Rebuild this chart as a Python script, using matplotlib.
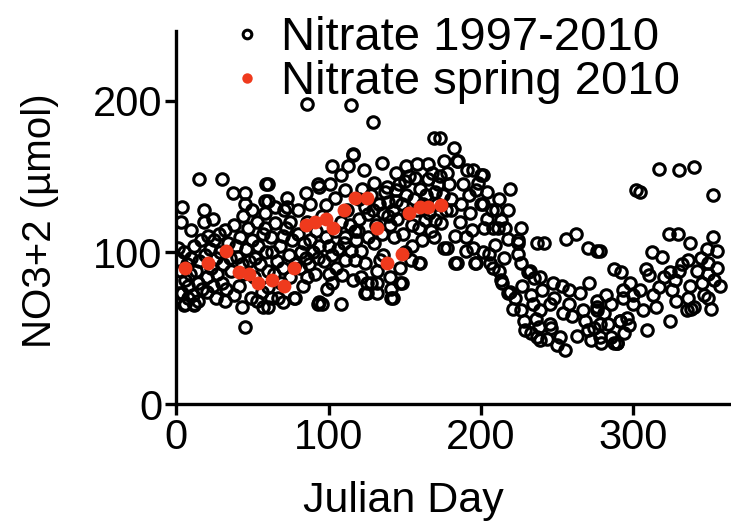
import matplotlib
matplotlib.use('Agg')
import matplotlib.pyplot as plt

plt.rcParams['font.family'] = ['Liberation Sans', 'DejaVu Sans']

# Nitrate 1997-2010 (open circles), grouped by day range
day_a = [1, 3, 4, 4, 5, 12, 15, 18, 18, 21, 30, 37, 45, 45, 43, 45, 49, 57, 58, 58, 58, 59, 60, 60, 60,
         2, 3, 5, 6, 7, 8, 9, 10, 11, 12, 13, 14, 15, 16, 17, 19, 20, 22, 23, 24, 25, 26, 27, 28, 29, 30,
         31, 32, 33, 34, 35, 36, 38, 39, 40, 41, 42, 43, 44, 46, 47, 48, 50, 51, 52, 53, 54, 55, 56, 57,
         59, 60, 8, 14, 20, 26, 32, 38, 53, 10, 24, 44, 50, 2, 6, 12]
val_a = [103, 120, 130, 73, 65, 65, 148, 128, 120, 111, 148, 139, 139, 132, 64, 51, 70, 64, 134, 126, 116, 145, 134, 77, 64,
         95, 88, 100, 82, 92, 78, 86, 96, 72, 104, 88, 80, 94, 108, 76, 98, 84, 102, 90, 78, 108, 96, 86, 112, 100, 80,
         92, 115, 76, 106, 96, 88, 118, 104, 97, 78, 110, 92, 86, 102, 116, 94, 108, 84, 96, 120, 104, 92, 74, 112,
         100, 88, 70, 68, 74, 70, 68, 72, 68, 115, 122, 124, 128, 73, 66, 66]

day_b = [60, 73, 85, 86, 93, 101, 102, 108, 111, 113, 116, 98, 111, 115, 117, 65, 71, 65, 75, 62, 70, 85, 93,
         102, 111, 117, 91, 100, 109, 116, 102, 67, 78, 93, 108, 96, 94, 86, 73, 77, 62, 70, 94, 115,
         63, 66, 68, 70, 72, 74, 76, 78, 80, 82, 84, 86, 88, 90, 92, 94, 96, 98, 100, 104, 106, 108, 110,
         112, 114, 118, 120, 64, 69, 75, 81, 87, 97, 105, 88, 80, 104, 83, 99]
val_b = [145, 136, 139, 198, 145, 145, 157, 151, 141, 157, 164, 131, 110, 101, 114, 130, 128, 119, 120, 110, 111, 96, 96,
         98, 95, 95, 86, 86, 85, 82, 80, 70, 70, 66, 66, 66, 67, 84, 130, 70, 70, 67, 143, 197,
         100, 94, 104, 90, 116, 98, 108, 92, 112, 100, 106, 120, 108, 100, 114, 104, 124, 110, 104, 114, 102, 120, 106,
         128, 118, 108, 122, 86, 80, 84, 90, 92, 94, 90, 132, 128, 136, 78, 76]

day_c = [116, 119, 121, 121, 123, 124, 124, 124, 125, 126, 128, 129, 129, 130, 130, 132, 132, 132, 135, 138,
         139, 139, 140, 141, 141, 142, 144, 144, 144, 147, 147, 148, 150, 151, 154, 157, 158, 159, 159, 160,
         161, 163, 165, 165, 167, 169, 169, 170, 172, 173, 174, 176, 176, 178, 178, 125,
         120, 122, 126, 128, 131, 133, 135, 136, 137, 140, 142, 143, 145, 146, 148, 149, 151, 152, 153, 155,
         156, 158, 160, 162, 164, 166, 168, 170, 171, 173, 175, 177, 179, 180, 155, 150, 136, 134]
val_c = [165, 114, 101, 84, 154, 130, 93, 73, 73, 110, 80, 128, 186, 146, 106, 88, 73, 80, 159, 143,
         133, 124, 84, 76, 70, 70, 152, 141, 134, 90, 80, 80, 147, 157, 95, 149, 158, 116, 93, 93,
         108, 121, 148, 158, 114, 110, 175, 121, 145, 175, 119, 160, 103, 152, 103, 80,
         135, 142, 125, 138, 118, 132, 112, 126, 140, 118, 128, 110, 122, 145, 132, 112, 138, 126, 150, 118,
         135, 128, 142, 132, 138, 126, 152, 140, 132, 150, 138, 128, 145, 135, 104, 100, 98, 95]

day_d = [182, 185, 191, 200, 184, 201, 219, 226, 237, 256, 262, 195, 197, 201, 210, 218, 208, 216, 224, 224,
         226, 232, 239, 247, 253, 258, 183, 180, 187, 193, 200, 207, 213, 202, 211, 218, 224, 231, 235, 184,
         190, 197, 205, 183, 196, 195, 201, 206, 212, 214, 219, 221, 228, 229, 237, 243, 250, 255, 252, 245,
         239, 234, 245, 254, 258, 241, 209, 215, 227, 222, 233, 240, 248, 188, 192, 198, 204, 186, 194, 190,
         204, 212, 246, 236, 226, 208, 213, 218, 233, 238, 239]
val_d = [169, 160, 154, 151, 160, 151, 142, 116, 106, 109, 112, 154, 141, 132, 128, 128, 116, 116, 108, 99,
         93, 88, 84, 80, 78, 75, 111, 128, 132, 126, 132, 128, 121, 116, 116, 109, 106, 87, 83, 93,
         101, 93, 99, 93, 93, 103, 100, 93, 88, 80, 74, 63, 55, 49, 44, 43, 39, 36, 44, 53,
         62, 66, 66, 60, 66, 106, 105, 96, 78, 70, 72, 75, 70, 145, 138, 146, 140, 120, 115, 110,
         122, 135, 50, 56, 62, 90, 82, 73, 47, 51, 42]

day_e = [263, 270, 278, 289, 283, 291, 276, 267, 265, 271, 276, 285, 293, 270, 276, 287, 292, 272, 279, 287,
         294, 260, 268, 274, 281, 297, 302, 304, 317, 330, 340, 352, 323, 329, 337, 352, 355, 348, 312, 319,
         308, 336, 330, 324, 349, 349, 353, 349, 351, 337, 336, 338, 325, 317, 315, 309, 324, 304, 300, 296,
         293, 291, 285, 289, 276, 278, 278, 335, 340, 327, 332, 342, 345, 320, 313, 306, 298, 328, 344, 355,
         346, 357, 310, 300, 282]
val_e = [45, 49, 44, 40, 53, 55, 62, 62, 73, 80, 68, 66, 75, 103, 101, 89, 87, 42, 40, 40,
         47, 58, 55, 50, 60, 52, 141, 140, 155, 154, 156, 138, 112, 112, 106, 110, 101, 102, 100, 97,
         89, 95, 88, 87, 93, 86, 82, 70, 63, 78, 70, 63, 75, 77, 64, 49, 55, 75, 66, 57,
         70, 55, 44, 40, 64, 53, 101, 62, 64, 82, 92, 88, 80, 84, 72, 62, 80, 68, 96, 90,
         72, 78, 85, 72, 72]

# Nitrate spring 2010 (filled red dots)
spring_day = [6, 21, 33, 41, 48, 54, 63, 71, 77, 85, 91, 98, 103, 110, 117, 125, 132, 138, 148, 153, 160, 165, 174]
spring_val = [90, 93, 101, 87, 86, 80, 82, 78, 90, 118, 120, 122, 116, 128, 136, 136, 116, 93, 99, 126, 130, 130, 131]

all_day = day_a + day_b + day_c + day_d + day_e
all_val = val_a + val_b + val_c + val_d + val_e

fig = plt.figure(figsize=(7.31, 5.29), dpi=100)
ax = fig.add_axes([0.241, 0.236, 0.759, 0.706])

ax.plot(all_day, all_val, 'o', mfc='none', mec='black', ms=8.3, mew=2.2,
        label='Nitrate 1997-2010', zorder=2)
ax.plot(spring_day, spring_val, 'o', color='#ef3a1d', ms=10, mew=0,
        label='Nitrate spring 2010', zorder=3)

ax.set_xlim(0, 364)
ax.set_ylim(0, 246)
ax.set_xticks([0, 100, 200, 300])
ax.set_yticks([0, 100, 200])
ax.spines['top'].set_visible(False)
ax.spines['right'].set_visible(False)
ax.spines['left'].set_linewidth(2.4)
ax.spines['bottom'].set_linewidth(2.4)
ax.tick_params(labelsize=30, width=2.4, length=8, pad=2)
ax.set_xlabel('Julian Day', fontsize=31)
ax.xaxis.set_label_coords(0.41, -0.205)
ax.set_ylabel('NO3+2 (µmol)', fontsize=29)
ax.yaxis.set_label_coords(-0.212, 0.49)

leg = fig.legend(loc='upper left', bbox_to_anchor=(0.28, 1.023), frameon=False,
                 fontsize=34, handlelength=0.6, handletextpad=0.42,
                 labelspacing=0.0, borderpad=0.1, markerscale=0.75)

plt.savefig('out.png', format='png')
